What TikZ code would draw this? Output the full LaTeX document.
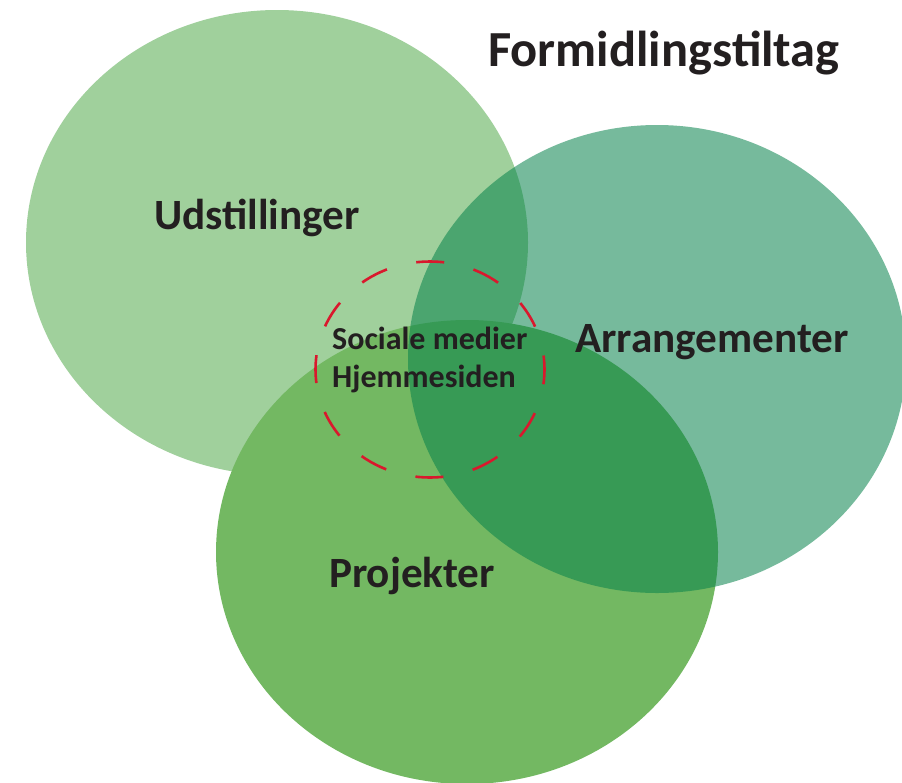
\documentclass[tikz,border=0pt]{standalone}
\usepackage{fontspec}
\setmainfont{Carlito}
\usepackage{tikz}
\usetikzlibrary{shapes.geometric}

\definecolor{udstgreen}{HTML}{A0D09C}
\definecolor{projgreen}{HTML}{73B862}
\definecolor{arrgreen}{HTML}{06824B}
\definecolor{dashred}{HTML}{D9182D}
\definecolor{textdark}{HTML}{231F20}

\begin{document}
\begin{tikzpicture}[x=1pt, y=-1pt,
  blob/.style={ellipse, inner sep=0pt, draw=none},
  label/.style={font=\bfseries\fontsize{43.2}{50}\selectfont, text=textdark, anchor=base, inner sep=0pt},
  ring/.style={ellipse, inner sep=0pt, draw=dashred, line width=2.6pt,
               dash pattern=on 28pt off 30.2pt, dash phase=14pt},
]
\useasboundingbox (0,0) rectangle (902,782);

% Ellipser
\node[blob, fill=udstgreen, minimum width=502pt, minimum height=465pt] (udstblob) at (277,242.5) {};
\node[blob, fill=projgreen, minimum width=502pt, minimum height=464pt] (projblob) at (467,552) {};
\node[blob, fill=arrgreen, fill opacity=0.55, minimum width=498pt, minimum height=468pt] (arrblob) at (657,359) {};

% Stiplet cirkel
\node[ring, minimum width=229pt, minimum height=216pt] (webring) at (430,369.5) {};

% Tekster
\node[label, font=\bfseries\fontsize{50.5}{56}\selectfont] (title) at (664,66) {Formidlingstiltag};
\node[label] (udst) at (257,229) {Udstillinger};
\node[label] (arr)  at (712,352) {Arrangementer};
\node[label] (proj) at (412,587) {Projekter};
\node[font=\bfseries\fontsize{32}{38}\selectfont, text=textdark, align=left, anchor=west, inner sep=0pt]
  (web) at (332,360) {Sociale medier\\Hjemmesiden};
\end{tikzpicture}
\end{document}
